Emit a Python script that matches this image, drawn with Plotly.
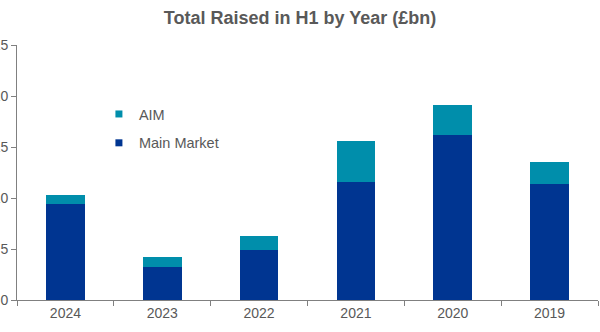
import plotly.graph_objects as go

years = ["2024", "2023", "2022", "2021", "2020", "2019"]
main_market = [9.4, 3.2, 4.9, 11.6, 16.2, 11.4]
aim = [0.9, 1.0, 1.4, 4.0, 2.9, 2.1]
y_ticks = [0, 5, 10, 15, 20, 25]

grey = "#595959"
c_main = "#003591"
c_aim = "#008EAB"

fig = go.Figure()
fig.add_trace(go.Bar(x=years, y=main_market, name="Main Market", marker_color=c_main,
                     marker_line_width=0, showlegend=False))
fig.add_trace(go.Bar(x=years, y=aim, name="AIM", marker_color=c_aim,
                     marker_line_width=0, showlegend=False))
# legend entries with small square symbols
fig.add_trace(go.Scatter(x=[None], y=[None], mode="markers", name="AIM", legendgroup="a",
                         marker=dict(symbol="square", size=7, color=c_aim)))
fig.add_trace(go.Scatter(x=[None], y=[None], mode="markers", name="Main Market", legendgroup="m",
                         marker=dict(symbol="square", size=7, color=c_main)))

fig.update_layout(
    width=600, height=332,
    barmode="stack", bargap=0.6,
    paper_bgcolor="white", plot_bgcolor="white",
    margin=dict(l=17, r=2, t=45, b=32, autoexpand=False),
    font=dict(family="Liberation Sans, Arial, sans-serif", color=grey, size=14),
    title=dict(text="<b>Total Raised in H1 by Year (£bn)</b>", x=0.5, xanchor="center",
               y=1 - 18 / 332, yanchor="middle", font=dict(size=18, color=grey)),
    legend=dict(x=0.141, y=0.792, xanchor="left", yanchor="top", traceorder="grouped",
                font=dict(size=14.5, color=grey), bgcolor="rgba(0,0,0,0)",
                itemwidth=30, tracegroupgap=7),
    showlegend=True,
)
fig.update_xaxes(showline=True, linecolor="#808080", linewidth=1, ticks="outside",
                 tickson="boundaries", ticklen=5, tickcolor="#808080",
                 tickfont=dict(size=14, color=grey), showgrid=False)
fig.update_yaxes(range=[0, 25], tickvals=y_ticks, showline=True, linecolor="#808080",
                 linewidth=1, ticks="outside", ticklen=5, tickcolor="#808080",
                 tickfont=dict(size=14, color=grey), showgrid=False, zeroline=False,
                 automargin=False)

fig.write_html("out.html")
